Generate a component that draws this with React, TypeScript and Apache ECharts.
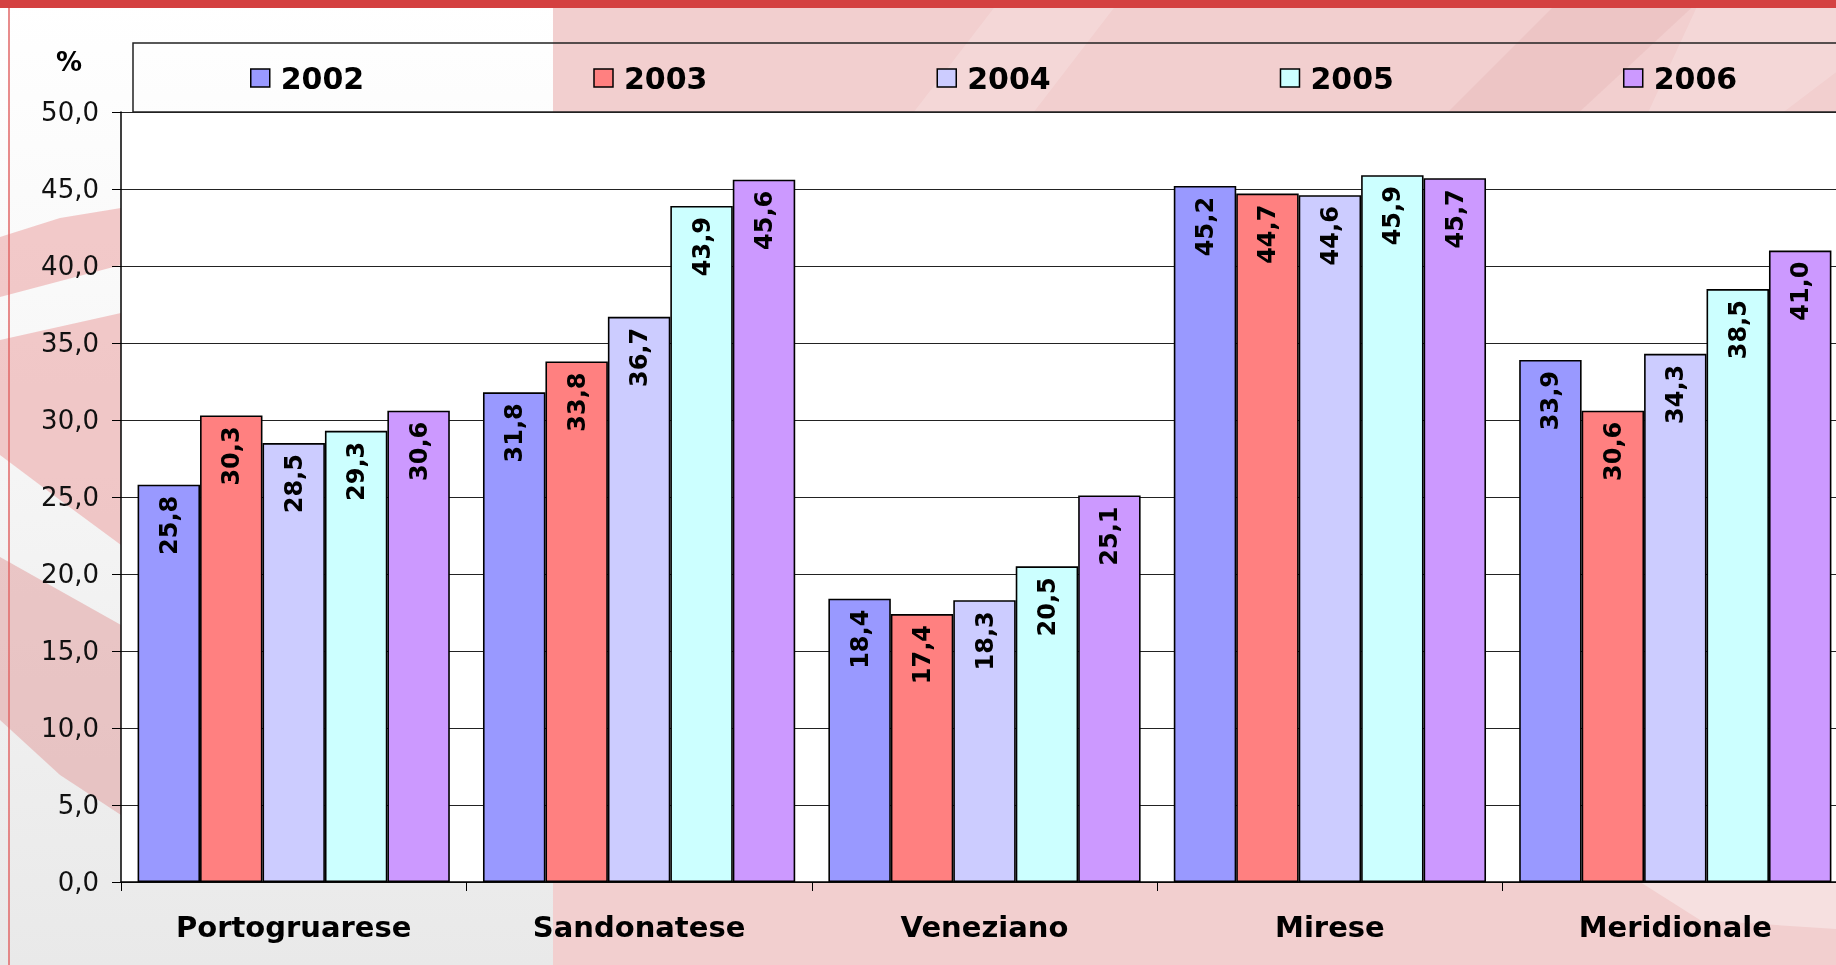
import React, { useEffect, useRef } from "react";
import * as echarts from "echarts";

const categories = ["Portogruarese", "Sandonatese", "Veneziano", "Mirese", "Meridionale"];
const years = ["2002", "2003", "2004", "2005", "2006"];
const v2002 = [25.8, 31.8, 18.4, 45.2, 33.9];
const v2003 = [30.3, 33.8, 17.4, 44.7, 30.6];
const v2004 = [28.5, 36.7, 18.3, 44.6, 34.3];
const v2005 = [29.3, 43.9, 20.5, 45.9, 38.5];
const v2006 = [30.6, 45.6, 25.1, 45.7, 41.0];
const seriesValues = [v2002, v2003, v2004, v2005, v2006];
const colors = ["#9999FF", "#FF8080", "#CCCCFF", "#CCFFFF", "#CC99FF"];
const yMin = 0;
const yMax = 50;
const yStep = 5;

const FONT = "DejaVu Sans";
const fmt = (v: number) => v.toFixed(1).replace(".", ",");

export default function App() {
  const ref = useRef<HTMLDivElement>(null);
  useEffect(() => {
    if (!ref.current) return;
    const chart = echarts.init(ref.current, undefined, { renderer: "svg" });
    const W = 1852;
    const H = 965;
    const pink = "#f2cfcf";
    const option: any = {
      animation: false,
      backgroundColor: "transparent",
      textStyle: { fontFamily: FONT },
      graphic: [
        {
          type: "rect",
          z: -10,
          shape: { x: 0, y: 0, width: 553, height: H },
          style: {
            fill: new echarts.graphic.LinearGradient(0, 0, 0, 1, [
              { offset: 0, color: "#ffffff" },
              { offset: 0.45, color: "#f6f6f6" },
              { offset: 1, color: "#e9e9e9" },
            ]),
          },
        },
        {
          type: "rect",
          z: -10,
          shape: { x: 553, y: 0, width: W - 553, height: H },
          style: { fill: pink },
        },
        {
          type: "polygon",
          z: -9,
          shape: { points: [[1000, 0], [1120, 0], [1020, 130], [900, 130]] },
          style: { fill: "rgba(255,255,255,0.18)" },
        },
        {
          type: "polygon",
          z: -9,
          shape: { points: [[1560, 0], [1700, 0], [1560, 130], [1430, 130]] },
          style: { fill: "rgba(200,120,120,0.10)" },
        },
        {
          type: "polygon",
          z: -9,
          shape: { points: [[1700, 0], [1852, 0], [1852, 60], [1760, 130], [1640, 130]] },
          style: { fill: "rgba(255,255,255,0.18)" },
        },
        {
          type: "polygon",
          z: -9,
          shape: { points: [[1640, 882], [1852, 882], [1852, 930], [1700, 920]] },
          style: { fill: "rgba(255,255,255,0.35)" },
        },
        {
          type: "polygon",
          z: -9,
          shape: { points: [[0, 237], [60, 218], [121, 208], [121, 265], [0, 297]] },
          style: { fill: "rgba(235,160,160,0.55)" },
        },
        {
          type: "polygon",
          z: -9,
          shape: { points: [[0, 340], [121, 313], [121, 545], [60, 500], [0, 455]] },
          style: { fill: "rgba(235,160,160,0.55)" },
        },
        {
          type: "polygon",
          z: -9,
          shape: { points: [[0, 557], [121, 625], [121, 815], [60, 775], [0, 720]] },
          style: { fill: "rgba(225,160,160,0.55)" },
        },
        {
          type: "rect",
          z: -8,
          shape: { x: 0, y: 0, width: W, height: 8 },
          style: { fill: "#d44141" },
        },
        {
          type: "line",
          z: -8,
          shape: { x1: 9, y1: 8, x2: 9, y2: H },
          style: { stroke: "#e06666", lineWidth: 1.5 },
        },
        {
          type: "rect",
          z: 5,
          shape: { x: 133, y: 43, width: W, height: 69 },
          style: { fill: "none", stroke: "#222", lineWidth: 1.5 },
        },
        {
          type: "text",
          z: 5,
          x: 69,
          y: 62,
          style: {
            text: "%",
            fontFamily: FONT,
            fontSize: 26,
            fontWeight: "bold",
            fill: "#000",
            align: "center",
            verticalAlign: "middle",
          },
        },
      ],
      legend: {
        data: years,
        left: 245,
        top: 58,
        itemGap: 229,
        itemWidth: 19,
        itemHeight: 18,
        icon: "rect",
        itemStyle: { borderColor: "#000", borderWidth: 1.5 },
        textStyle: {
          fontFamily: FONT,
          fontSize: 30,
          fontWeight: "bold",
          color: "#000",
          padding: [0, 0, 0, 6],
        },
      },
      grid: {
        left: 121,
        right: W - 1848,
        top: 112,
        bottom: 83,
        show: true,
        backgroundColor: "#ffffff",
        borderWidth: 0,
        containLabel: false,
      },
      xAxis: {
        type: "category",
        data: categories,
        axisLine: { show: true, lineStyle: { color: "#000", width: 1.5 } },
        axisTick: { show: true, length: 9, lineStyle: { color: "#000", width: 1 } },
        axisLabel: {
          fontFamily: FONT,
          fontSize: 29,
          fontWeight: "bold",
          color: "#000",
          margin: 30,
          interval: 0,
        },
      },
      yAxis: {
        type: "value",
        min: yMin,
        max: yMax,
        interval: yStep,
        axisLine: { show: true, lineStyle: { color: "#000", width: 1.5 } },
        axisTick: { show: true, length: 9, lineStyle: { color: "#000", width: 1 } },
        splitLine: { show: true, lineStyle: { color: "#222", width: 1 } },
        axisLabel: {
          fontFamily: FONT,
          fontSize: 26,
          color: "#111",
          margin: 22,
          formatter: (v: number) => fmt(v),
        },
      },
      series: years.map((y, i) => ({
        name: y,
        type: "bar",
        data: seriesValues[i],
        barGap: "0%",
        barCategoryGap: "9.6%",
        itemStyle: { color: colors[i], borderColor: "#000", borderWidth: 1.6 },
        label: {
          show: true,
          position: "insideTop",
          rotate: 90,
          align: "right",
          verticalAlign: "middle",
          distance: 11,
          fontFamily: FONT,
          fontSize: 24,
          fontWeight: "bold",
          color: "#000",
          formatter: (p: any) => fmt(p.value),
        },
      })),
    };
    chart.setOption(option);
    return () => chart.dispose();
  }, []);
  return (
    <div style={{ position: "fixed", left: 0, top: 0, width: 1836, height: 965, overflow: "hidden" }}>
      <div ref={ref} style={{ width: 1852, height: 965 }} />
    </div>
  );
}
